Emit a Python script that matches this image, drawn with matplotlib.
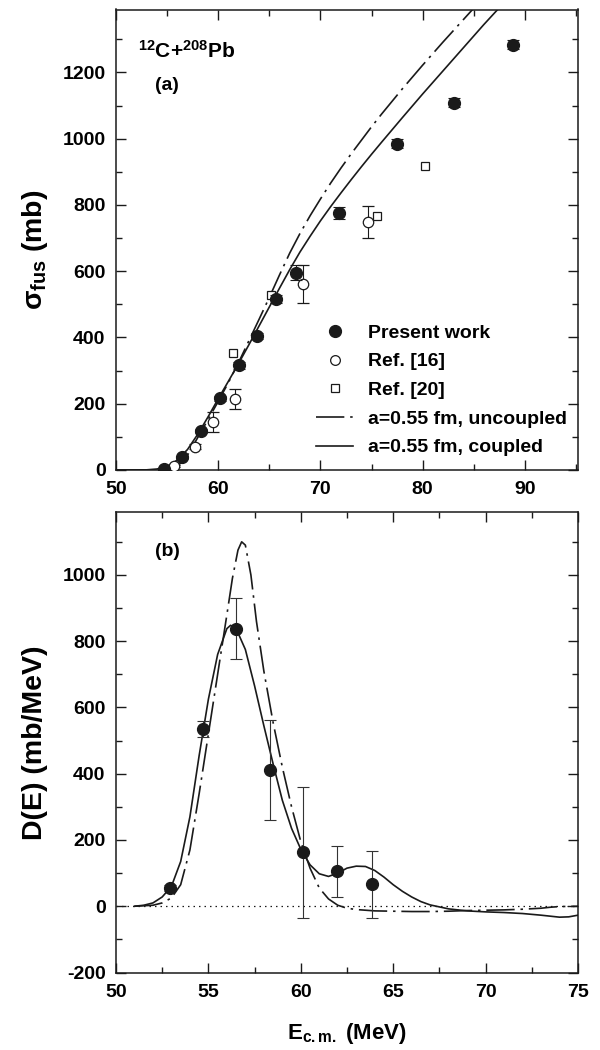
import numpy as np
import matplotlib
matplotlib.use('Agg')
import matplotlib.pyplot as plt
from matplotlib.lines import Line2D
from matplotlib.ticker import MultipleLocator

plt.rcParams['font.family'] = ['Liberation Sans', 'DejaVu Sans']
plt.rcParams['font.weight'] = 'bold'
plt.rcParams['axes.unicode_minus'] = False
plt.rcParams['mathtext.fontset'] = 'custom'
plt.rcParams['mathtext.rm'] = 'Liberation Sans:bold'
plt.rcParams['mathtext.bf'] = 'Liberation Sans:bold'
plt.rcParams['mathtext.it'] = 'Liberation Sans:bold'
plt.rcParams['mathtext.sf'] = 'Liberation Sans:bold'

# ---------------- data: panel (a) ----------------
E_present = [54.7, 56.5, 58.3, 60.2, 62.0, 63.8, 65.7, 67.6, 71.8, 77.5, 83.1, 88.8]
sig_present = [2, 38, 117, 216, 316, 405, 517, 596, 777, 985, 1109, 1284]
err_present = [3, 5, 6, 8, 10, 10, 12, 22, 18, 14, 14, 14]

E_ref16 = [55.7, 57.7, 59.5, 61.6, 68.3, 74.7]
sig_ref16 = [12, 70, 145, 214, 562, 748]
err_ref16 = [4, 8, 30, 30, 57, 49]

E_ref20 = [61.4, 65.2, 75.5, 80.2]
sig_ref20 = [354, 527, 766, 917]

E_fus_line = [50, 52, 53, 54, 55, 56, 57, 58, 59, 60, 61, 62, 63, 64, 65, 66, 67, 68,
              69, 70, 71, 72, 73, 74, 75, 76, 78, 80, 82, 84, 86, 88]
sig_coupled = [0, 0, 0.5, 3, 10, 30, 62, 108, 160, 215, 268, 322, 378, 435, 492, 549, 605, 658,
               706, 752, 795, 836, 876, 915, 953, 990, 1063, 1135, 1205, 1275, 1345, 1412]
sig_uncoupled = [0, 0, 0, 0.3, 2, 10, 45, 98, 152, 207, 264, 325, 390, 455, 521, 589, 655, 714,
                 768, 818, 866, 911, 954, 995, 1036, 1075, 1150, 1222, 1292, 1360, 1428, 1495]

legend_labels = ['Present work', 'Ref. [16]', 'Ref. [20]',
                 'a=0.55 fm, uncoupled', 'a=0.55 fm, coupled']

# ---------------- data: panel (b) ----------------
E_D = [52.9, 54.69, 56.49, 58.33, 60.14, 61.98, 63.83]
D_val = [55, 534, 838, 411, 163, 105, 66]
D_err = [8, 24, 93, 150, 198, 77, 101]

E_Dc = [51.0, 51.5, 52.0, 52.5, 53.0, 53.5, 54.0, 54.5, 55.0, 55.5, 56.0, 56.2, 56.5, 57.0,
        57.5, 58.0, 58.5, 59.0, 59.5, 60.0, 60.5, 61.0, 61.5, 62.0, 62.5, 63.0, 63.5, 64.0,
        64.5, 65.0, 65.5, 66.0, 66.5, 67.0, 68.0, 69.0, 70.0, 71.0, 72.0, 73.0, 74.0, 74.5, 75.0]
D_coupled = [0, 3, 10, 28, 60, 135, 270, 455, 625, 760, 838, 848, 838, 775,
             665, 545, 430, 320, 235, 172, 125, 98, 90, 100, 115, 121, 120, 108,
             88, 65, 45, 28, 14, 4, -8, -14, -17, -19, -22, -27, -33, -32, -27]

E_Du = [51.0, 52.0, 52.5, 53.0, 53.5, 54.0, 54.5, 55.0, 55.5, 56.0, 56.3, 56.6, 56.8, 57.0,
        57.3, 57.6, 58.0, 58.5, 59.0, 59.5, 60.0, 60.5, 61.0, 61.5, 62.0, 62.5, 63.0, 64.0,
        65.0, 66.0, 67.0, 68.0, 69.0, 70.0, 71.0, 72.0, 73.0, 73.5, 74.0, 75.0]
D_uncoupled = [0, 3, 10, 25, 65, 170, 340, 520, 700, 880, 990, 1075, 1100, 1090,
               1000, 860, 710, 555, 420, 300, 195, 115, 55, 22, 3, -6, -10, -14,
               -15, -16, -16, -15, -13, -12, -11, -9, -6, -3, -1, 0]

zero_line_E = [50, 75]
zero_line_D = [0, 0]

# ---------------- figure ----------------
W, H = 600, 1050
fig = plt.figure(figsize=(6, 10.5), dpi=100)
axL, axR = 116 / W, 578 / W
axa = fig.add_axes([axL, 1 - 470 / H, axR - axL, 460.5 / H])
axb = fig.add_axes([axL, 1 - 972.5 / H, axR - axL, 460.5 / H])

FS = 14
YFS = 20.5
DASHDOT = (17, 3.5, 1.5, 3.5)
LW = 1.2
ink = '#1a1a1a'

def style(ax):
    for s in ax.spines.values():
        s.set_linewidth(1.1)
        s.set_color(ink)
    ax.tick_params(which='both', direction='in', top=True, right=True, color=ink,
                   labelsize=FS, width=1.0)
    ax.tick_params(which='major', length=7.5)
    ax.tick_params(which='minor', length=4.5)
    ax.tick_params(axis='x', pad=8)
    ax.tick_params(axis='y', pad=7.5)
    for lab in ax.get_xticklabels() + ax.get_yticklabels():
        lab.set_fontweight('bold')

# ---- panel (a)
axa.plot(E_fus_line, sig_uncoupled, color=ink, lw=LW, dashes=DASHDOT)
axa.plot(E_fus_line, sig_coupled, color=ink, lw=LW)
axa.errorbar(E_ref16, sig_ref16, yerr=err_ref16, fmt='o', ms=7.5, mfc='white', mec=ink,
             mew=0.9, ecolor=ink, elinewidth=0.8, capsize=4.5, capthick=0.8, zorder=3)
axa.plot(E_ref20, sig_ref20, 's', ms=6.2, mfc='white', mec=ink, mew=0.9, zorder=3)
axa.errorbar(E_present, sig_present, yerr=err_present, fmt='o', ms=8.5, color=ink,
             ecolor=ink, elinewidth=0.8, capsize=4.5, capthick=0.8, zorder=4)

axa.set_xlim(50, 95.2)
axa.set_ylim(0, 1390)
axa.xaxis.set_major_locator(MultipleLocator(10))
axa.xaxis.set_minor_locator(MultipleLocator(5))
axa.yaxis.set_major_locator(MultipleLocator(200))
axa.yaxis.set_minor_locator(MultipleLocator(100))
style(axa)
axa.set_ylabel(r'$σ_{fus}$ (mb)', fontsize=YFS, fontweight='bold', va='center')
axa.yaxis.set_label_coords(-0.175, 0.478)

axa.text(0.048, 0.91, r'$^{12}$C+$^{208}$Pb', transform=axa.transAxes, fontsize=FS + 1,
         fontweight='bold', va='center', ha='left')
axa.text(0.084, 0.834, '(a)', transform=axa.transAxes, fontsize=FS,
         fontweight='bold', va='center', ha='left')

handles = [
    Line2D([], [], marker='o', ls='none', ms=8.5, color=ink),
    Line2D([], [], marker='o', ls='none', ms=7, mfc='white', mec=ink, mew=0.9),
    Line2D([], [], marker='s', ls='none', ms=6, mfc='white', mec=ink, mew=0.9),
    Line2D([], [], color=ink, lw=LW, dashes=DASHDOT),
    Line2D([], [], color=ink, lw=LW),
]
leg = axa.legend(handles, legend_labels, loc='upper left', bbox_to_anchor=(0.433, 0.317),
                 frameon=False, borderpad=0, borderaxespad=0, handlelength=1.9,
                 handletextpad=0.76, labelspacing=0.57, numpoints=1,
                 prop={'size': FS, 'weight': 'bold'})

# ---- panel (b)
axb.plot(zero_line_E, zero_line_D, color=ink, lw=0.9, ls=(0, (1.2, 3.2)))
axb.plot(E_Du, D_uncoupled, color=ink, lw=LW, dashes=DASHDOT)
axb.plot(E_Dc, D_coupled, color=ink, lw=LW)
axb.errorbar(E_D, D_val, yerr=D_err, fmt='o', ms=8.5, color=ink, ecolor='#333333',
             elinewidth=0.8, capsize=4.5, capthick=0.8, zorder=4)

axb.set_xlim(50, 75)
axb.set_ylim(-200, 1190)
axb.xaxis.set_major_locator(MultipleLocator(5))
axb.xaxis.set_minor_locator(MultipleLocator(2.5))
axb.yaxis.set_major_locator(MultipleLocator(200))
axb.yaxis.set_minor_locator(MultipleLocator(100))
style(axb)
axb.set_ylabel('D(E) (mb/MeV)', fontsize=YFS, fontweight='bold', va='center')
axb.yaxis.set_label_coords(-0.175, 0.50)
axb.set_xlabel(r'E$_{c.m.}$ (MeV)', fontsize=FS + 2, fontweight='bold', va='baseline')
axb.xaxis.set_label_coords(0.5, -0.144)
axb.text(0.084, 0.915, '(b)', transform=axb.transAxes, fontsize=FS,
         fontweight='bold', va='center', ha='left')

fig.savefig('out.png', dpi=100)
